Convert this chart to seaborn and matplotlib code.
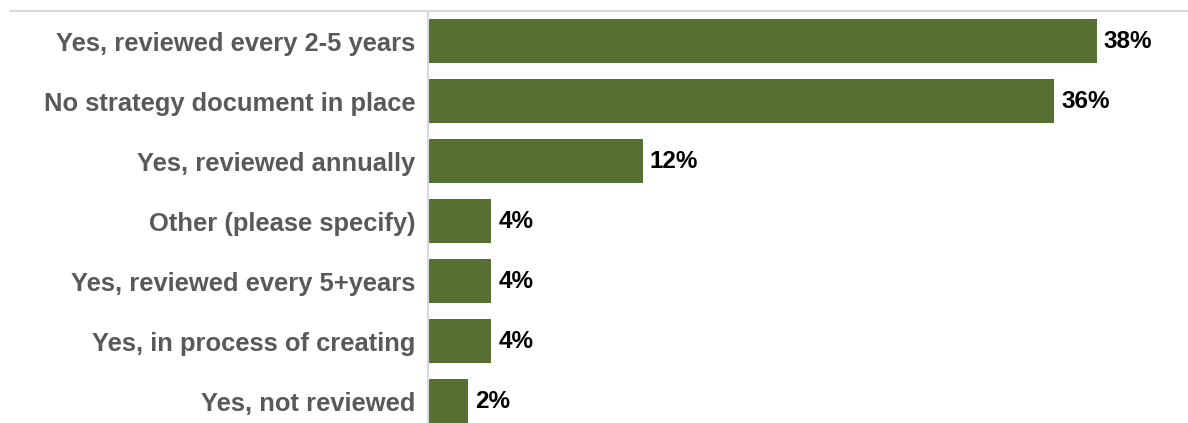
import matplotlib
matplotlib.use("Agg")
import matplotlib.pyplot as plt
import pandas as pd
import seaborn as sns
from matplotlib.lines import Line2D

# Dados
categorias = ['Yes, reviewed every 2-5 years', 'No strategy document in place',
              'Yes, reviewed annually', 'Other (please specify)',
              'Yes, reviewed every 5+years', 'Yes, in process of creating',
              'Yes, not reviewed']
valores = [38.0, 35.6, 12.2, 3.6, 3.6, 3.6, 2.3]
rotulos = ['38%', '36%', '12%', '4%', '4%', '4%', '2%']

df = pd.DataFrame({'categoria': categorias, 'valor': valores})

sns.set_style("white")
plt.rcParams['font.family'] = ['Liberation Sans', 'DejaVu Sans']

fig = plt.figure(figsize=(11.88, 4.23), dpi=100)
ax = fig.add_axes([428 / 1188, -8 / 423, 760 / 1188, 420 / 423])

sns.barplot(data=df, x='valor', y='categoria', color='#557030', saturation=1,
            width=0.73, ax=ax, edgecolor='none')

ax.set_xlim(0, 43.2)
ax.set_ylim(6.5, -0.5)

# Rótulos de valor no fim das barras
for i, (v, r) in enumerate(zip(valores, rotulos)):
    ax.text(v + 0.4, i, r, va='center', ha='left', fontsize=17.5,
            fontweight='bold', color='black')

ax.set_xlabel('')
ax.set_ylabel('')
ax.set_xticks([])
ax.tick_params(axis='y', length=0, pad=9)
for lbl in ax.get_yticklabels():
    lbl.set_fontsize(18.4)
    lbl.set_fontweight('bold')
    lbl.set_color('#595959')

for s in ['top', 'right', 'bottom']:
    ax.spines[s].set_visible(False)
ax.spines['left'].set_color('#d9d9d9')
ax.spines['left'].set_linewidth(1.5)

# Linha cinza no topo
fig.add_artist(Line2D([10 / 1188, 1], [1 - 11 / 423, 1 - 11 / 423],
                      color='#d9d9d9', linewidth=1.5))

fig.savefig('out.png', dpi=100)
